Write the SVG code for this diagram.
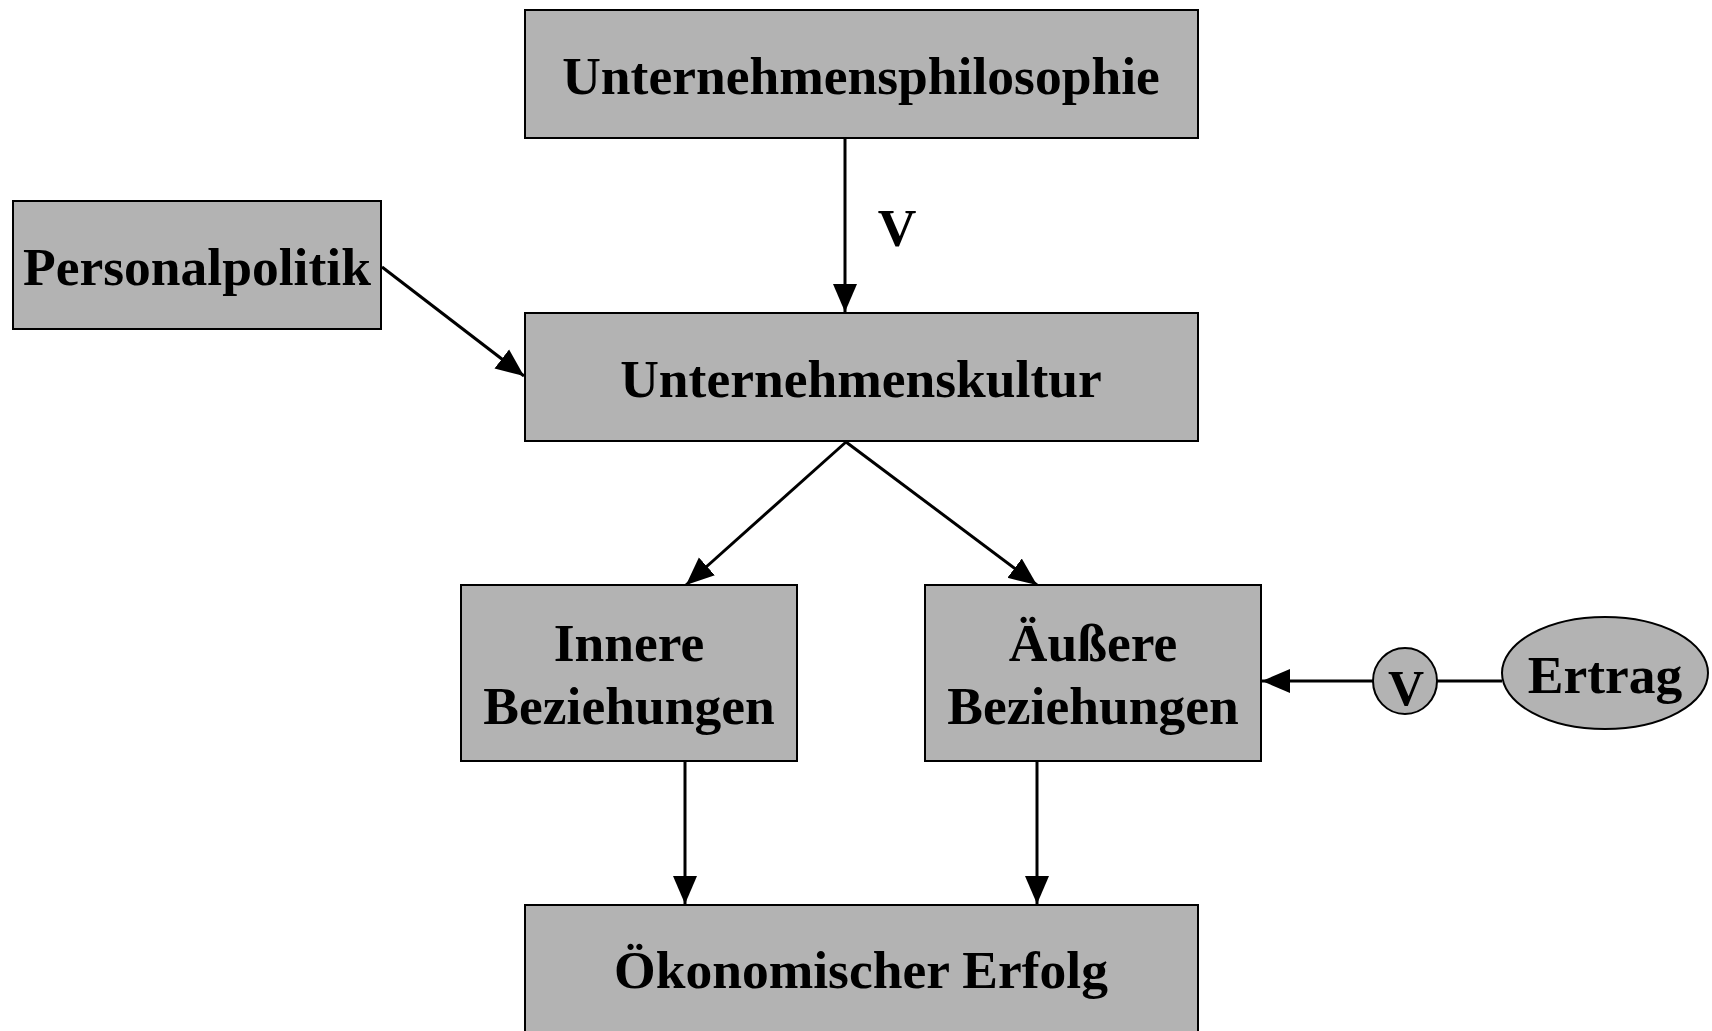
<svg xmlns="http://www.w3.org/2000/svg" width="1712" height="1031" viewBox="0 0 1712 1031">
<style>
.box{fill:#b3b3b3;stroke:#000;stroke-width:2}
.t{font-family:"Liberation Serif","Times New Roman",serif;font-weight:bold;font-size:53.5px;fill:#000;text-anchor:middle}
.c{stroke:#000;stroke-width:3;fill:none}
</style>
<defs>
<marker id="ah" markerUnits="userSpaceOnUse" markerWidth="30" markerHeight="26" refX="28" refY="13" orient="auto">
<path d="M0,1 L28,13 L0,25 Z" fill="#000"/>
</marker>
</defs>
<rect width="1712" height="1031" fill="#fff"/>
<g id="connectors">
<line class="c" x1="845" y1="138" x2="845" y2="312" marker-end="url(#ah)"/>
<line class="c" x1="382" y1="267" x2="524" y2="376" marker-end="url(#ah)"/>
<line class="c" x1="846" y1="442" x2="686" y2="585" marker-end="url(#ah)"/>
<line class="c" x1="846" y1="442" x2="1037" y2="585" marker-end="url(#ah)"/>
<line class="c" x1="685" y1="761" x2="685" y2="904" marker-end="url(#ah)"/>
<line class="c" x1="1037" y1="761" x2="1037" y2="904" marker-end="url(#ah)"/>
<line class="c" x1="1373" y1="681" x2="1262" y2="681" marker-end="url(#ah)"/>
<line class="c" x1="1437" y1="681" x2="1502" y2="681"/>
<text class="t" x="897" y="246">V</text>
</g>
<g id="n-philosophie">
<rect class="box" x="525" y="10" width="673" height="128"/>
<text class="t" x="861" y="94">Unternehmensphilosophie</text>
</g>
<g id="n-personalpolitik">
<rect class="box" x="13" y="201" width="368" height="128"/>
<text class="t" x="197" y="285">Personalpolitik</text>
</g>
<g id="n-kultur">
<rect class="box" x="525" y="313" width="673" height="128"/>
<text class="t" x="861" y="397">Unternehmenskultur</text>
</g>
<g id="n-innere">
<rect class="box" x="461" y="585" width="336" height="176"/>
<text class="t" x="629" y="661">Innere</text>
<text class="t" x="629" y="724">Beziehungen</text>
</g>
<g id="n-aeussere">
<rect class="box" x="925" y="585" width="336" height="176"/>
<text class="t" x="1093" y="661">Äußere</text>
<text class="t" x="1093" y="724">Beziehungen</text>
</g>
<g id="n-erfolg">
<rect class="box" x="525" y="905" width="673" height="140"/>
<text class="t" x="861" y="988">Ökonomischer Erfolg</text>
</g>
<g id="n-v">
<ellipse class="box" cx="1405" cy="681" rx="32" ry="33"/>
<text class="t" x="1406" y="705" style="font-size:50px">V</text>
</g>
<g id="n-ertrag">
<ellipse class="box" cx="1605" cy="673" rx="103" ry="56"/>
<text class="t" x="1605" y="693">Ertrag</text>
</g>
</svg>
